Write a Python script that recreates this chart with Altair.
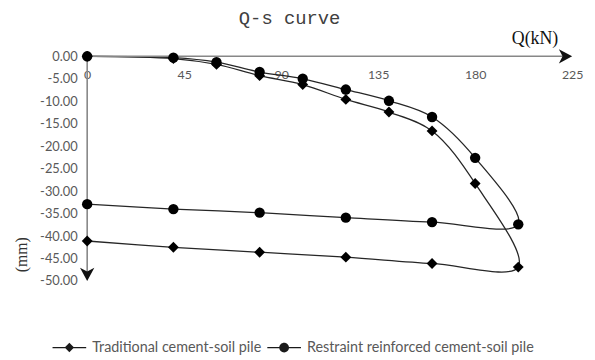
import altair as alt
import pandas as pd

# ---- data ----
SERIES = ["Traditional cement-soil pile", "Restraint reinforced cement-soil pile"]
q_load = [0, 40, 60, 80, 100, 120, 140, 160, 180, 200]
q_unload = [160, 120, 80, 40, 0]
trad_load = [0, -0.5, -1.8, -4.3, -6.3, -9.6, -12.4, -16.6, -28.3, -46.9]
trad_unload = [-46.1, -44.7, -43.6, -42.5, -41.1]
rest_load = [0, -0.3, -1.3, -3.5, -5.0, -7.4, -9.9, -13.5, -22.6, -37.4]
rest_unload = [-36.9, -35.9, -34.8, -34.0, -32.9]
x_ticks = [0, 45, 90, 135, 180, 225]
y_ticks = [0, -5, -10, -15, -20, -25, -30, -35, -40, -45, -50]
TITLE = "Q-s curve"

rows = []
for name, load, unload in [(SERIES[0], trad_load, trad_unload),
                           (SERIES[1], rest_load, rest_unload)]:
    qs = q_load + q_unload
    ss = load + unload
    for i, (q, s) in enumerate(zip(qs, ss)):
        rows.append({"series": name, "Q": q, "s": s, "step": i})
df = pd.DataFrame(rows)

# axis lines (from origin to the arrow heads) and arrow heads
axis_lines = pd.DataFrame({"Q": [0, 0], "Q2": [222, 0], "s": [0, 0], "s2": [0, -49]})
arrows = pd.DataFrame({"Q": [225, 0], "s": [0, -50], "ang": [0, 90]})

xscale = alt.Scale(domain=[0, 225], nice=False, zero=False)
yscale = alt.Scale(domain=[-50, 0], nice=False, zero=False)

x_axis = alt.Axis(
    orient="bottom", offset=-227, values=x_ticks, domain=False, ticks=False,
    grid=False, labelPadding=12, labelFont="Lato", labelFontSize=12.5,
    labelColor="#595959", labelFlush=False, labelOverlap=False,
    title="Q(kN)", titleFont="Liberation Serif", titleFontSize=18,
    titleFontWeight="normal", titleColor="#111111", titleX=452, titleY=-18,
    titleAlign="center", titleBaseline="middle")
y_axis = alt.Axis(
    orient="left", values=y_ticks, domain=False, ticks=False, grid=False,
    labelPadding=10,
    labelExpr="replace(format(datum.value, '.2f'), '\u2212', '-')",
    labelFont="Lato", labelFontSize=13, labelColor="#595959",
    labelFlush=False, labelOverlap=False,
    title="(mm)", titleFont="Liberation Serif", titleFontSize=16,
    titleFontWeight="normal", titleColor="#333333", titleX=-66, titleY=200,
    titleAngle=270, titleAlign="center", titleBaseline="middle")

def xf():
    return alt.X("Q:Q", scale=xscale, axis=x_axis)

def yf():
    return alt.Y("s:Q", scale=yscale, axis=y_axis)

base = alt.Chart(df)

lines = base.mark_line(interpolate="catmull-rom", color="#262626",
                       strokeWidth=1.3).encode(
    x=xf(), y=yf(), detail="series:N", order="step:Q")

pts_d = base.transform_filter(alt.datum.series == SERIES[0]).mark_point(
    shape="diamond", filled=True, size=120, color="#000000", opacity=1).encode(
    x=xf(), y=yf())
pts_c = base.transform_filter(alt.datum.series == SERIES[1]).mark_point(
    shape="circle", filled=True, size=110, color="#000000", opacity=1).encode(
    x=xf(), y=yf())

axis_rules = alt.Chart(axis_lines).mark_rule(
    color="#878787", strokeWidth=1.6).encode(
    x=xf(), x2="Q2:Q", y=yf(), y2="s2:Q")

arrow_path = "M0,0 L-1,-0.54 L-0.72,0 L-1,0.54 Z"
arrow_marks = alt.Chart(arrows).mark_point(
    shape=arrow_path, filled=True, size=720, color="#111111", opacity=1).encode(
    x=xf(), y=yf(), angle=alt.Angle("ang:Q", scale=None))

one = alt.Data(values=[{"k": 0}])
title_layer = alt.Chart(one).mark_text(
    text=TITLE, font="Liberation Mono", fontSize=19, color="#404040",
    align="center", baseline="middle").encode(
    x=alt.value(204.5), y=alt.value(-39))

leg_d = ("M-1,-0.035 L1,-0.035 L1,0.035 L-1,0.035 Z "
         "M0,-0.28 L0.28,0 L0,0.28 L-0.28,0 Z")
leg_c = ("M-1,-0.035 L1,-0.035 L1,0.035 L-1,0.035 Z "
         "M-0.29,0 A0.29,0.29 0 1,1 0.29,0 A0.29,0.29 0 1,1 -0.29,0 Z")
legend_layer = base.transform_filter("false").mark_point(
    filled=True, color="#1a1a1a", opacity=1).encode(
    shape=alt.Shape("series:N",
                    scale=alt.Scale(domain=SERIES, range=[leg_d, leg_c]),
                    legend=alt.Legend(
                        title=None, orient="none", legendX=-35, legendY=277,
                        direction="horizontal", symbolSize=1156,
                        symbolStrokeWidth=0, symbolFillColor="#1a1a1a",
                        symbolOpacity=1,
                        labelFont="Lato", labelFontSize=14.5,
                        labelColor="#595959", labelLimit=400, labelOffset=6,
                        columnPadding=6, padding=0)))

chart = alt.layer(
    lines, axis_rules, pts_d, pts_c, arrow_marks, title_layer, legend_layer
).properties(
    width=490, height=227,
    background="white",
    view=alt.ViewBackground(stroke=None),
    autosize=alt.AutoSizeParams(type="none"),
    padding={"left": 80, "top": 47, "right": 15, "bottom": 76},
).configure_view(stroke=None)

chart.save("out.html", embed_options={"renderer": "svg", "actions": False})
